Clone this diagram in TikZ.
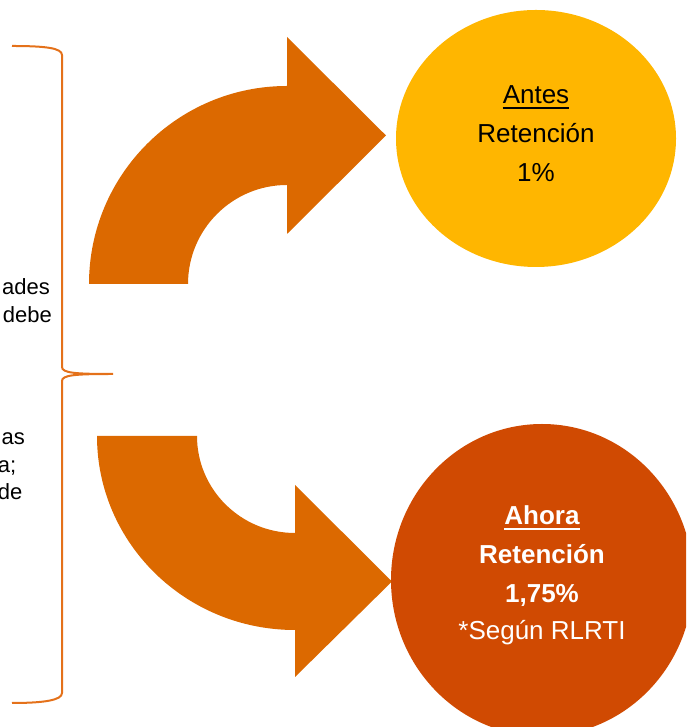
\documentclass[tikz,border=0pt]{standalone}
\usepackage{fontspec}
\setmainfont{Liberation Sans}
\definecolor{arroworange}{HTML}{DC6900}
\definecolor{braceorange}{HTML}{E4711A}
\definecolor{antesyellow}{HTML}{FFB600}
\definecolor{ahorared}{HTML}{D04A02}
\begin{document}
\begin{tikzpicture}[x=1pt,y=1pt,
  big/.style={font=\fontsize{26}{30}\selectfont, inner sep=0pt, anchor=base},
  side/.style={font=\fontsize{22}{26}\selectfont, inner sep=0pt, anchor=base east},
  ulines/.style={line width=2pt}]
\useasboundingbox (0,0) rectangle (686,727);
\clip (0,0) rectangle (686,727);
% left clipped text
\node[side] (t1) at (50,432) {ades};
\node[side] (t2) at (52,404) {debe};
\node[side] (t3) at (25,282) {as};
\node[side] (t4) at (16.5,254) {a;};
\node[side] (t5) at (22.5,227) {de};
% brace
\draw[braceorange, line width=2pt]
  (12,681) .. controls (45,681) and (62,679) .. (62,672)
  -- (62,360) .. controls (62,354) and (75,353) .. (113,353)
  .. controls (75,353) and (62,352) .. (62,346)
  -- (62,34) .. controls (62,27) and (45,24) .. (12,24);
% top arrow
\fill[arroworange] (89,443) arc[start angle=180, end angle=90, radius=198]
  -- (287,690) -- (386,591.5) -- (287,493) -- (287,542)
  arc[start angle=90, end angle=180, radius=99] -- cycle;
% bottom arrow
\fill[arroworange] (97,291) arc[start angle=180, end angle=270, x radius=198, y radius=194]
  -- (295,50) -- (392,145.5) -- (295,242) -- (295,194)
  arc[start angle=270, end angle=180, x radius=98, y radius=97] -- cycle;
% circles
\fill[antesyellow] (536,588.5) ellipse[x radius=140, y radius=128.5];
\fill[ahorared] (542,147) ellipse[x radius=151, y radius=156];
% top circle text
\node[big] (antes) at (536,623) {Antes};
\draw[ulines] ([yshift=-4.5pt]antes.base west) -- ([yshift=-4.5pt]antes.base east);
\node[big] (ret1) at (536,584) {Retención};
\node[big] (pct1) at (536,545) {1\%};
% bottom circle text
\node[big, text=white, font=\fontsize{26}{30}\selectfont\bfseries] (ahora) at (542,202) {Ahora};
\draw[ulines, white] ([yshift=-4.5pt]ahora.base west) -- ([yshift=-4.5pt]ahora.base east);
\node[big, text=white, font=\fontsize{26}{30}\selectfont\bfseries] (ret2) at (542,163) {Retención};
\node[big, text=white, font=\fontsize{26}{30}\selectfont\bfseries] (pct2) at (542,124) {1,75\%};
\node[big, text=white] (segun) at (542,87) {*Según RLRTI};
\end{tikzpicture}
\end{document}
